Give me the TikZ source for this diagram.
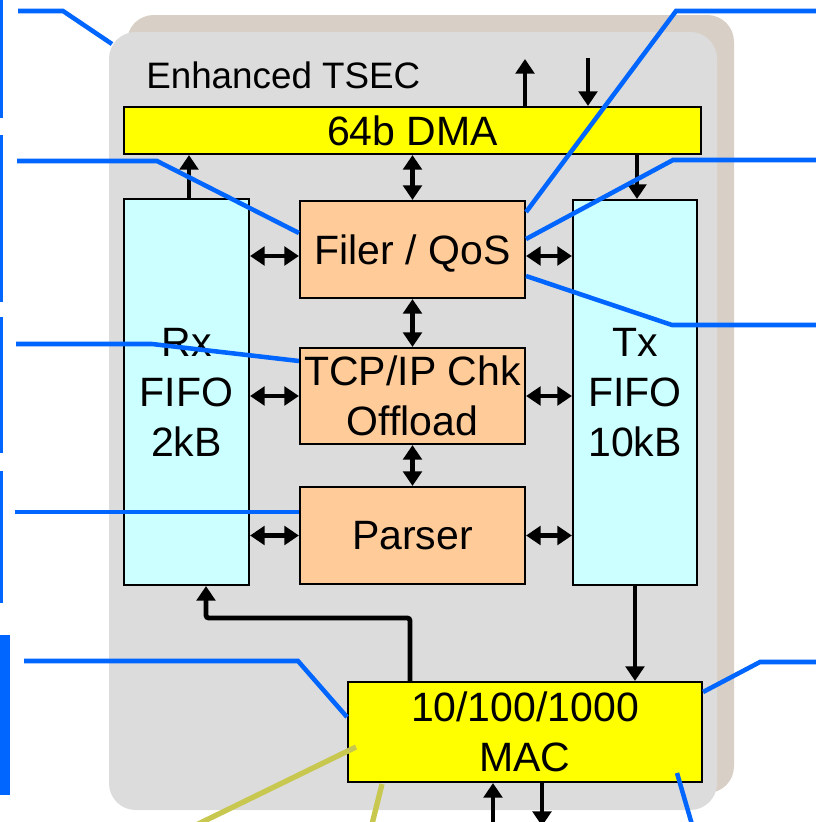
\documentclass[tikz,border=0pt]{standalone}
\usepackage{fontspec}
\setmainfont{Liberation Sans}
\usetikzlibrary{arrows.meta}
\definecolor{tanshadow}{HTML}{D8D0C6}
\definecolor{panelgray}{HTML}{DCDCDC}
\definecolor{dmayellow}{HTML}{FFFF00}
\definecolor{fifocyan}{HTML}{CCFFFF}
\definecolor{blockorange}{HTML}{FFCC99}
\definecolor{callblue}{HTML}{0066FF}
\definecolor{calolive}{HTML}{C8C850}
\begin{document}
\begin{tikzpicture}[x=0.75pt,y=-0.75pt,
  blk/.style={draw=black, line width=1.6pt, inner sep=0pt, align=center,
    font=\fontsize{30.75pt}{37.5pt}\selectfont},
  yel/.style={blk, fill=dmayellow},
  fifo/.style={blk, fill=fifocyan},
  orng/.style={blk, fill=blockorange},
  flow/.style={line width=3.6pt, -{Triangle[width=14pt,length=11pt]}},
  bidir/.style={line width=3.6pt, {Triangle[width=14pt,length=11pt]}-{Triangle[width=14pt,length=11pt]}},
  callout/.style={draw=callblue, line width=3.4pt},
  olive/.style={draw=calolive, line width=4pt},
  ]
\useasboundingbox (0,0) rectangle (816,822);
\clip (0,0) rectangle (816,822);

% panel
\fill[tanshadow, rounded corners=20pt] (127,15) rectangle (734,793);
\fill[panelgray, rounded corners=20pt] (109,32) rectangle (717,810);
\node[anchor=base west, inner sep=0pt, font=\fontsize{27.6pt}{32pt}\selectfont] (title) at (146,88) {Enhanced TSEC};

% blocks
\node[yel, minimum width=432.75pt, minimum height=35.25pt] (dma) at (412.5,130.5) {64b DMA};
\node[fifo, minimum width=93.75pt, minimum height=289.5pt] (rx) at (186.5,392) {Rx\\FIFO\\2kB};
\node[fifo, minimum width=93pt, minimum height=288.75pt] (tx) at (635,392.5) {Tx\\FIFO\\10kB};
\node[orng, minimum width=168.75pt, minimum height=72.75pt, text depth=0pt] (filer) at (412.5,249.5) {Filer / QoS};
\node[orng, minimum width=168.75pt, minimum height=72pt] (tcp) at (412.5,396) {TCP/IP Chk\\Offload};
\node[orng, minimum width=168.75pt, minimum height=72.75pt, text depth=0pt] (parser) at (412.5,535.5) {Parser};
\node[yel, minimum width=265.5pt, minimum height=75pt] (mac) at (525,732) {10/100/1000\\MAC};

% arrows
\coordinate (dmaup) at (525,59);
\coordinate (dmain) at (588,58);
\draw[flow] (dma.north -| dmaup) -- (dmaup);
\draw[flow] (dmain) -- (dma.north -| dmain);
\draw[flow] (rx.north -| 189,0) -- (dma.south -| 189,0);
\draw[flow] (dma.south -| 637,0) -- (tx.north -| 637,0);
\draw[bidir] (dma.south) -- (filer.north);
\draw[bidir] (filer.south) -- (tcp.north);
\draw[bidir] (tcp.south) -- (parser.north);
\draw[bidir] (rx.east |- 0,256) -- (filer.west |- 0,256);
\draw[bidir] (filer.east |- 0,256) -- (tx.west |- 0,256);
\draw[bidir] (rx.east |- tcp.west) -- (tcp.west);
\draw[bidir] (tcp.east) -- (tx.west |- tcp.east);
\draw[bidir] (rx.east |- parser.west) -- (parser.west);
\draw[bidir] (parser.east) -- (tx.west |- parser.east);
\draw[flow] (tx.south) -- (tx.south |- mac.north);
\coordinate (bendA) at (410,618);
\coordinate (bendB) at (206,618);
\draw[flow, rounded corners=2pt] (mac.north -| bendA) -- (bendA) -- (bendB) -- (rx.south -| bendB);
\coordinate (macin) at (493,830);
\coordinate (macout) at (542,826);
\draw[flow] (macin) -- (mac.south -| macin);
\draw[flow] (mac.south -| macout) -- (macout);

% left edge bars
\fill[callblue] (0,0) rectangle (3,118);
\fill[callblue] (0,135) rectangle (3,302);
\fill[callblue] (0,317) rectangle (3,453);
\fill[callblue] (0,471) rectangle (3,603);
\fill[callblue] (0,635) rectangle (10,795);

% callouts left
\coordinate (l1a) at (18,11);  \coordinate (l1b) at (63,11);  \coordinate (l1c) at (112,44);
\draw[callout] (l1a) -- (l1b) -- (l1c);
\coordinate (l2a) at (17,161); \coordinate (l2b) at (157,161);
\draw[callout] (l2a) -- (l2b) -- (filer.west |- 0,233);
\coordinate (l3a) at (16,344); \coordinate (l3b) at (152,344);
\draw[callout] (l3a) -- (l3b) -- (tcp.west |- 0,361);
\coordinate (l4a) at (15,512);
\draw[callout] (l4a) -- (parser.west |- l4a);
\coordinate (l5a) at (24,661); \coordinate (l5b) at (298,661);
\draw[callout] (l5a) -- (l5b) -- (mac.west |- 0,717);

% callouts right
\coordinate (r1a) at (816,11);  \coordinate (r1b) at (676,11);
\draw[callout] (r1a) -- (r1b) -- (filer.east |- 0,212);
\coordinate (r2a) at (816,160); \coordinate (r2b) at (673,160);
\draw[callout] (r2a) -- (r2b) -- (filer.east |- 0,239);
\coordinate (r3a) at (816,325); \coordinate (r3b) at (672,325);
\draw[callout] (r3a) -- (r3b) -- (filer.east |- 0,276);
\coordinate (r4a) at (816,662); \coordinate (r4b) at (760,662);
\draw[callout] (r4a) -- (r4b) -- (mac.east |- 0,692);
\coordinate (r5a) at (693,828); \coordinate (r5b) at (677,773);
\draw[callout] (r5a) -- (r5b);

% olive callouts
\coordinate (o1a) at (356,747); \coordinate (o1b) at (190,828);
\draw[olive] (o1a) -- (o1b);
\coordinate (o2a) at (382,784); \coordinate (o2b) at (371,828);
\draw[olive] (o2a) -- (o2b);
\end{tikzpicture}
\end{document}
